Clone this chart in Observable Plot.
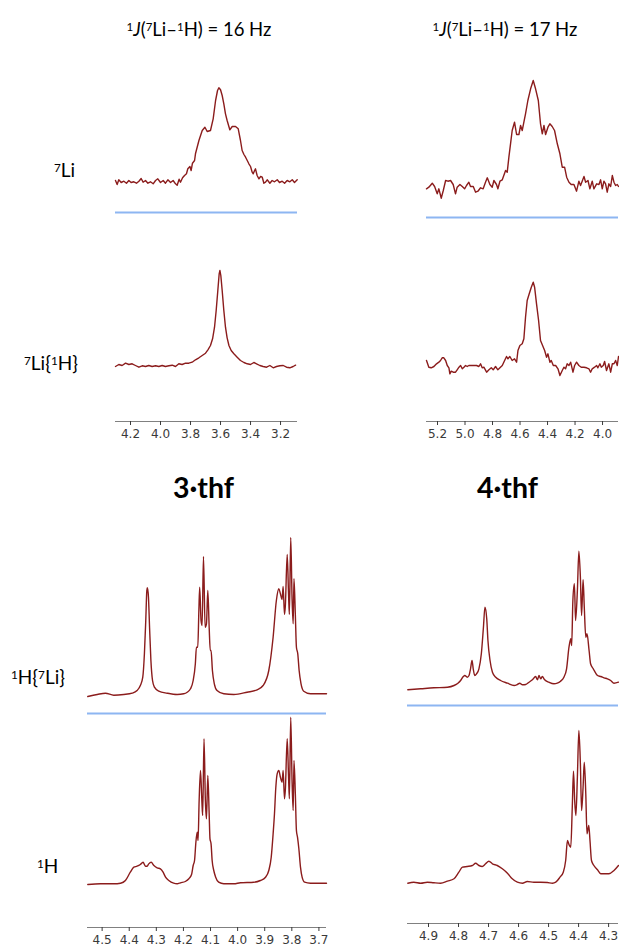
<!DOCTYPE html>
<html><head><meta charset="utf-8">
<script src="https://cdn.jsdelivr.net/npm/d3@7"></script>
<script src="https://cdn.jsdelivr.net/npm/@observablehq/plot@0.6"></script>
<style>
body{margin:0;background:#fff;}
#fig{position:relative;width:619px;height:948px;overflow:hidden;font-family:Lato,"Open Sans",sans-serif;color:#000;}
.panel{position:absolute;}
.lbl{position:absolute;white-space:nowrap;line-height:1;}
.lbl sup{font-size:0.62em;vertical-align:0.45em;line-height:0;}
.ctr{transform:translateX(-50%);}
.bold{font-weight:700;}
</style></head><body><div id="fig"></div><script>
// ---- 7Li spectra (ppm, intensity in arbitrary units) ----
const li7_3thf_ppm = [4.300,4.289,4.278,4.262,4.244,4.227,4.211,4.196,4.178,4.160,4.144,4.129,4.116,4.100,4.084,4.067,4.049,4.033,4.018,4.000,3.982,3.967,3.951,3.933,3.916,3.900,3.889,3.876,3.867,3.853,3.840,3.827,3.818,3.804,3.796,3.787,3.773,3.767,3.744,3.722,3.704,3.689,3.667,3.649,3.633,3.620,3.611,3.600,3.589,3.578,3.567,3.556,3.538,3.522,3.500,3.482,3.467,3.456,3.444,3.433,3.422,3.411,3.400,3.389,3.382,3.373,3.367,3.356,3.344,3.333,3.322,3.311,3.300,3.289,3.271,3.256,3.240,3.222,3.207,3.189,3.173,3.156,3.138,3.122,3.107,3.089];
const li7_3thf_int = [1.7,-2.3,2.4,-0.3,1,-1,1.7,-0.3,0.4,-1,1,3.7,0,1.7,-1,0.4,-1.6,1.7,3.4,-0.3,1.7,-1,2.4,-0.3,1.7,-1.6,-3,3,0,4.4,6.7,8.4,13.4,15.7,11.7,19,21.7,28.4,41.7,51.7,55,50.7,51.7,63.4,81.7,91.7,94.4,92.4,86.7,78.4,68.4,61.7,52.4,55.7,55.7,53.4,41.7,31.7,27.7,25,21.7,18.4,15.7,10,8.4,11.7,13.4,6.7,3.4,5.7,5,-1,0,2.4,-1,1.7,0.4,2.4,-0.3,1,-1,1.7,0.4,2.4,-0.3,2.4];

const li7H_3thf_ppm = [4.300,4.278,4.256,4.233,4.211,4.189,4.167,4.144,4.122,4.100,4.078,4.056,4.033,4.011,3.989,3.967,3.944,3.922,3.900,3.878,3.856,3.833,3.811,3.789,3.767,3.744,3.722,3.700,3.684,3.667,3.653,3.640,3.629,3.618,3.609,3.604,3.598,3.589,3.578,3.567,3.556,3.544,3.529,3.511,3.489,3.467,3.444,3.422,3.400,3.378,3.360,3.338,3.316,3.293,3.271,3.249,3.227,3.204,3.182,3.160,3.138,3.116,3.100];
const li7H_3thf_int = [-1,1,0,2.3,1,1.7,0,-1.7,-0.3,-1,0,-1,-0.3,-1,0,-1,-0.3,0.3,-1,1.7,1,2.3,2.3,3.3,5.7,7.7,10,12.3,15.7,20,26.7,38.3,55,75,91.7,95,90,75,55,38.3,27.7,20,15,11.7,8.3,5,3,1.7,1,3,1.7,0,-1,-1.7,0,-2.3,-1,-0.3,0,-1.7,-2.3,-1,0.3];

const li7_4thf_ppm = [5.280,5.263,5.238,5.221,5.202,5.190,5.173,5.158,5.141,5.124,5.105,5.086,5.069,5.057,5.037,5.020,5.003,4.989,4.972,4.960,4.940,4.923,4.906,4.887,4.868,4.851,4.838,4.819,4.802,4.790,4.771,4.761,4.746,4.729,4.705,4.693,4.681,4.669,4.657,4.640,4.625,4.608,4.596,4.584,4.572,4.560,4.543,4.523,4.504,4.487,4.467,4.451,4.438,4.426,4.414,4.397,4.383,4.366,4.349,4.329,4.310,4.293,4.276,4.261,4.244,4.228,4.208,4.189,4.172,4.160,4.148,4.135,4.123,4.106,4.092,4.075,4.063,4.043,4.026,4.014,4.002,3.990,3.978,3.966,3.954,3.941,3.929,3.917,3.905,3.893,3.884];
const li7_4thf_int = [-1.6,0,4,0.7,-6.6,-1.6,-11,-3.3,6.7,6,6.7,2.7,-6.6,0,2.7,0.7,-1.6,1.7,5,0.7,0.7,-5,-4,-0.6,-1.6,5,9.4,2.7,0,6.7,2.7,-1.6,6,7.4,16.7,15,30,43.4,56.7,65,52.7,52.7,61.7,56.7,65,73.4,86.7,98.4,106.7,98.4,86.7,63.4,53.4,61.7,52.7,60,63.4,60.7,56.7,43.4,33.4,20,20,10,5,2.7,2.7,-4,6,1.7,6,10.7,5,6.7,-1.6,6,-1.6,3.4,2.7,7.4,-1.6,6,3.4,-5,3.4,0.7,11.7,5,1.7,2.7,0.7];

const li7H_4thf_ppm = [5.280,5.263,5.246,5.226,5.207,5.190,5.178,5.166,5.154,5.141,5.129,5.117,5.110,5.100,5.086,5.069,5.057,5.044,5.032,5.020,5.008,4.996,4.984,4.972,4.955,4.935,4.916,4.899,4.887,4.875,4.863,4.843,4.826,4.809,4.795,4.778,4.761,4.746,4.729,4.712,4.698,4.688,4.674,4.657,4.640,4.625,4.615,4.601,4.584,4.572,4.560,4.548,4.533,4.518,4.504,4.494,4.480,4.465,4.451,4.436,4.421,4.407,4.397,4.383,4.373,4.358,4.341,4.324,4.310,4.293,4.281,4.269,4.257,4.244,4.232,4.215,4.203,4.189,4.172,4.155,4.135,4.116,4.099,4.087,4.075,4.058,4.043,4.034,4.019,4.009,3.995,3.985,3.971,3.954,3.941,3.929,3.917,3.905,3.893,3.884];
const li7H_4thf_int = [6.7,0,-0.6,0.7,3.4,5,6.7,9.4,9.4,6.7,1.7,-0.6,-6.6,-4,-5,-5,-2.6,0,1.7,-1.6,0,1.7,0.7,1.7,1.7,1.7,1.7,0.7,3.4,-0.6,0,-5,-2.6,-0.6,-2.6,0.7,-2.6,-0.6,1.7,6.7,10.7,8.4,10.7,6.7,8.4,5,16.7,21.7,23.4,28.4,50,66.7,73.4,80,85,80,63.4,46.7,26.7,21.7,16.7,10,13.4,5,6.7,1.7,1.7,-1.6,-8.3,-3.3,0,-1.6,3.4,1.7,5,-5,1.7,5,1.7,0,0,-0.6,-1.6,-5,-1.6,0,1.7,-0.6,3.4,0,1.7,5.7,-3.3,3.4,-5,3.4,3.4,6.7,1.7,10.7];

// ---- 1H spectra ----
const h1Li_3thf_ppm = [4.553,4.518,4.488,4.457,4.420,4.389,4.371,4.359,4.350,4.344,4.339,4.335,4.333,4.329,4.325,4.320,4.314,4.307,4.291,4.260,4.223,4.199,4.186,4.174,4.164,4.156,4.152,4.147,4.143,4.140,4.135,4.131,4.126,4.120,4.115,4.110,4.105,4.101,4.098,4.093,4.086,4.076,4.051,4.014,3.965,3.928,3.906,3.885,3.869,3.857,3.848,3.842,3.836,3.832,3.827,3.824,3.817,3.812,3.809,3.804,3.799,3.795,3.792,3.787,3.783,3.778,3.773,3.766,3.756,3.731,3.672];
const h1Li_3thf_int = [-2,0,1.3,-0.7,0,1.3,4,9,17.3,40.7,74,104,106.7,97.3,67.3,34,14,7.3,3.3,1.3,0,0.7,2.3,5.7,14,30.7,47.3,47.3,84,107.3,74,69,138,67.3,70.7,104,67.3,44,44,24,10.7,4,0.7,0,2.3,4.7,9,24,57.3,94,105.7,100.7,95,108,80,88,140,100,80,157,95,70.7,115.7,80,47.3,40.7,24,10.7,3.3,0.7,0.7];

const h1_3thf_ppm = [4.553,4.506,4.457,4.432,4.414,4.396,4.383,4.371,4.359,4.349,4.340,4.334,4.328,4.319,4.309,4.297,4.285,4.275,4.266,4.254,4.236,4.223,4.211,4.193,4.180,4.170,4.164,4.159,4.154,4.149,4.146,4.142,4.137,4.132,4.129,4.124,4.119,4.115,4.110,4.105,4.102,4.098,4.094,4.088,4.081,4.070,4.051,4.014,3.990,3.940,3.916,3.897,3.885,3.876,3.869,3.864,3.859,3.854,3.848,3.842,3.836,3.832,3.827,3.824,3.817,3.812,3.809,3.804,3.799,3.795,3.792,3.787,3.783,3.779,3.774,3.768,3.762,3.753,3.731,3.672];
const h1_3thf_int = [-0.7,0,0,0.6,3.3,11.6,16.6,17.6,19.3,21.6,17.6,17.6,19.9,21.6,18.3,16,15,11.6,6.6,3.3,0.6,0,1,2.3,5,9.3,18.3,23.3,41.6,51.6,43.3,83.3,113.3,83.3,68.3,145,83.3,65,108.3,70,45,40,23.3,13.3,6.6,1.6,0,0,1,1.6,3.3,6.6,13.3,26.6,50,70,96.6,110,113.3,106.6,101.6,113.3,85,93.3,145,106.6,85,166.6,101.6,73.3,123.3,90,53.3,46.6,35,16.6,6.6,1.6,0.6,0.6];

const h1Li_4thf_ppm = [4.969,4.926,4.882,4.837,4.815,4.802,4.793,4.784,4.779,4.771,4.765,4.760,4.755,4.751,4.746,4.740,4.732,4.724,4.717,4.712,4.706,4.702,4.695,4.687,4.676,4.660,4.637,4.615,4.604,4.596,4.587,4.576,4.565,4.554,4.543,4.537,4.532,4.526,4.521,4.513,4.499,4.482,4.471,4.460,4.449,4.440,4.432,4.426,4.423,4.419,4.414,4.410,4.404,4.399,4.394,4.390,4.385,4.381,4.376,4.372,4.365,4.360,4.351,4.337,4.326,4.315,4.304,4.293,4.282,4.267];
const h1Li_4thf_int = [-1,0,1,1.6,3.3,5.6,8.3,12.3,13.3,11.6,13.3,20,28.3,20,13.3,15,20,35,61.6,81.6,70,48.3,28.3,16.6,11.6,8.3,5.6,3.3,4.3,5.6,4,4.3,6.6,9,12.3,9,13.3,10,12.3,9,6.6,5,5.6,7.6,11.6,20,41.6,50,43.3,88.3,105,68.3,98.3,137.6,111.6,73.3,109,81.6,51.6,55,38.3,25,20,13.3,12.3,11,10,8.3,5.6,6.6];

const h1_4thf_ppm = [4.969,4.949,4.926,4.904,4.882,4.860,4.837,4.815,4.799,4.787,4.771,4.754,4.743,4.732,4.721,4.710,4.699,4.687,4.671,4.654,4.637,4.621,4.604,4.587,4.571,4.549,4.526,4.504,4.487,4.476,4.462,4.451,4.443,4.437,4.432,4.426,4.421,4.417,4.413,4.409,4.404,4.399,4.394,4.390,4.385,4.381,4.376,4.372,4.366,4.362,4.357,4.349,4.337,4.326,4.313,4.299,4.282,4.267];
const h1_4thf_int = [-1,0,-1,0,-0.6,-1,1,3.4,10,15,15.7,16.7,19,16.7,15.7,18.4,21,18.4,16.7,13.4,9,3.4,0,-1,0.7,0,0,-0.3,-1,0,5,10,21.7,41.7,37.7,35,75,111,81.7,66.7,105,151.7,118.4,71.7,95,120,88.4,48.4,56.7,41.7,21.7,16.7,12.4,8.4,8.4,8.4,11.7,16.7];

// ---- tick values ----
const ticks3Li = [4.2,4.0,3.8,3.6,3.4,3.2];
const ticks4Li = [5.2,5.0,4.8,4.6,4.4,4.2,4.0];
const ticks3H = [4.5,4.4,4.3,4.2,4.1,4.0,3.9,3.8,3.7];
const ticks4H = [4.9,4.8,4.7,4.6,4.5,4.4,4.3];

// ---- text ----
const titles = ['<sup>1</sup><i>J</i>(<sup>7</sup>Li–<sup>1</sup>H) = 16 Hz','<sup>1</sup><i>J</i>(<sup>7</sup>Li–<sup>1</sup>H) = 17 Hz'];
const rowLabels = ['<sup>7</sup>Li','<sup>7</sup>Li{<sup>1</sup>H}','<sup>1</sup>H{<sup>7</sup>Li}','<sup>1</sup>H'];
const compounds = ['3·thf','4·thf'];

const fig = document.getElementById('fig');
const LINE = "#8b1c1c", SEP = "#8db6f2", AXIS = "#808080";

function panel(p) {
  const data = p.ppm.map((x, i) => ({ppm: x, v: p.int[i]}));
  const mb = p.axisY ? (p.top + p.height - p.axisY) : 0;
  const plotBottom = p.top + p.height - mb;
  const yDom = [p.baseline - plotBottom, p.baseline - p.top];
  const marks = [];
  if (p.sepY) marks.push(Plot.ruleY([p.baseline - p.sepY], {stroke: SEP, strokeWidth: 2}));
  if (p.axisY) {
    marks.push(Plot.ruleY([yDom[0]], {stroke: AXIS, strokeWidth: 1}));
    marks.push(Plot.axisX(p.ticks, {tickSize: 4, tickPadding: 4, tickFormat: d => d.toFixed(1), fontSize: 12, color: "#3a3a3a", label: null}));
  }
  marks.push(Plot.line(data, {x: "ppm", y: "v", stroke: LINE, strokeWidth: 1.4, curve: p.curve}));
  const svg = Plot.plot({
    width: p.width, height: p.height,
    marginTop: 0, marginLeft: 0, marginRight: 0, marginBottom: mb,
    x: {domain: p.xDomain, axis: null},
    y: {domain: yDom, axis: null},
    style: {background: "transparent", overflow: "visible", fontFamily: "'DejaVu Sans', Verdana, sans-serif", fontSize: "12px"},
    marks
  });
  const div = document.createElement('div');
  div.className = 'panel';
  div.style.left = p.left + 'px'; div.style.top = p.top + 'px';
  div.style.width = p.width + 'px'; div.style.height = p.height + 'px';
  div.appendChild(svg);
  fig.appendChild(div);
}

// left column: 3·thf ; right column: 4·thf
panel({ppm: li7_3thf_ppm, int: li7_3thf_int, left: 115, top: 60, width: 182, height: 160, baseline: 181.7, sepY: 212, xDomain: [4.30, 3.087], curve: "linear"});
panel({ppm: li7H_3thf_ppm, int: li7H_3thf_int, left: 115, top: 240, width: 182, height: 210, baseline: 365, axisY: 421, ticks: ticks3Li, xDomain: [4.30, 3.087], curve: "linear"});
panel({ppm: li7_4thf_ppm, int: li7_4thf_int, left: 426, top: 55, width: 192, height: 170, baseline: 186.7, sepY: 217, xDomain: [5.28, 3.884], curve: "linear"});
panel({ppm: li7H_4thf_ppm, int: li7H_4thf_int, left: 426, top: 240, width: 192, height: 210, baseline: 366.7, axisY: 421, ticks: ticks4Li, xDomain: [5.28, 3.884], curve: "linear"});
panel({ppm: h1Li_3thf_ppm, int: h1Li_3thf_int, left: 87, top: 515, width: 239, height: 205, baseline: 694, sepY: 713, xDomain: [4.554, 3.672], curve: "monotone-x"});
panel({ppm: h1_3thf_ppm, int: h1_3thf_int, left: 87, top: 700, width: 239, height: 248, baseline: 883.3, axisY: 927, ticks: ticks3H, xDomain: [4.554, 3.672], curve: "monotone-x"});
panel({ppm: h1Li_4thf_ppm, int: h1Li_4thf_int, left: 407, top: 515, width: 211, height: 205, baseline: 688.3, sepY: 705, xDomain: [4.970, 4.267], curve: "monotone-x"});
panel({ppm: h1_4thf_ppm, int: h1_4thf_int, left: 407, top: 700, width: 211, height: 248, baseline: 881.7, axisY: 923, ticks: ticks4H, xDomain: [4.970, 4.267], curve: "monotone-x"});

function label(html, x, baseline, size, cls) {
  const d = document.createElement('div');
  d.className = 'lbl ' + (cls || '');
  d.style.fontSize = size + 'px';
  d.style.left = x + 'px';
  d.style.top = (baseline - 0.887 * size) + 'px';
  d.innerHTML = html;
  fig.appendChild(d);
}
label(titles[0], 199, 36.5, 18.5, 'ctr');
label(titles[1], 505, 36.5, 18.5, 'ctr');
label(rowLabels[0], 54, 177, 19);
label(rowLabels[1], 24, 370, 19);
label(rowLabels[2], 11, 684, 19);
label(rowLabels[3], 37, 873, 19);
label(compounds[0], 173, 498, 28.5, 'bold');
label(compounds[1], 477, 498, 28.5, 'bold');
</script></body></html>
